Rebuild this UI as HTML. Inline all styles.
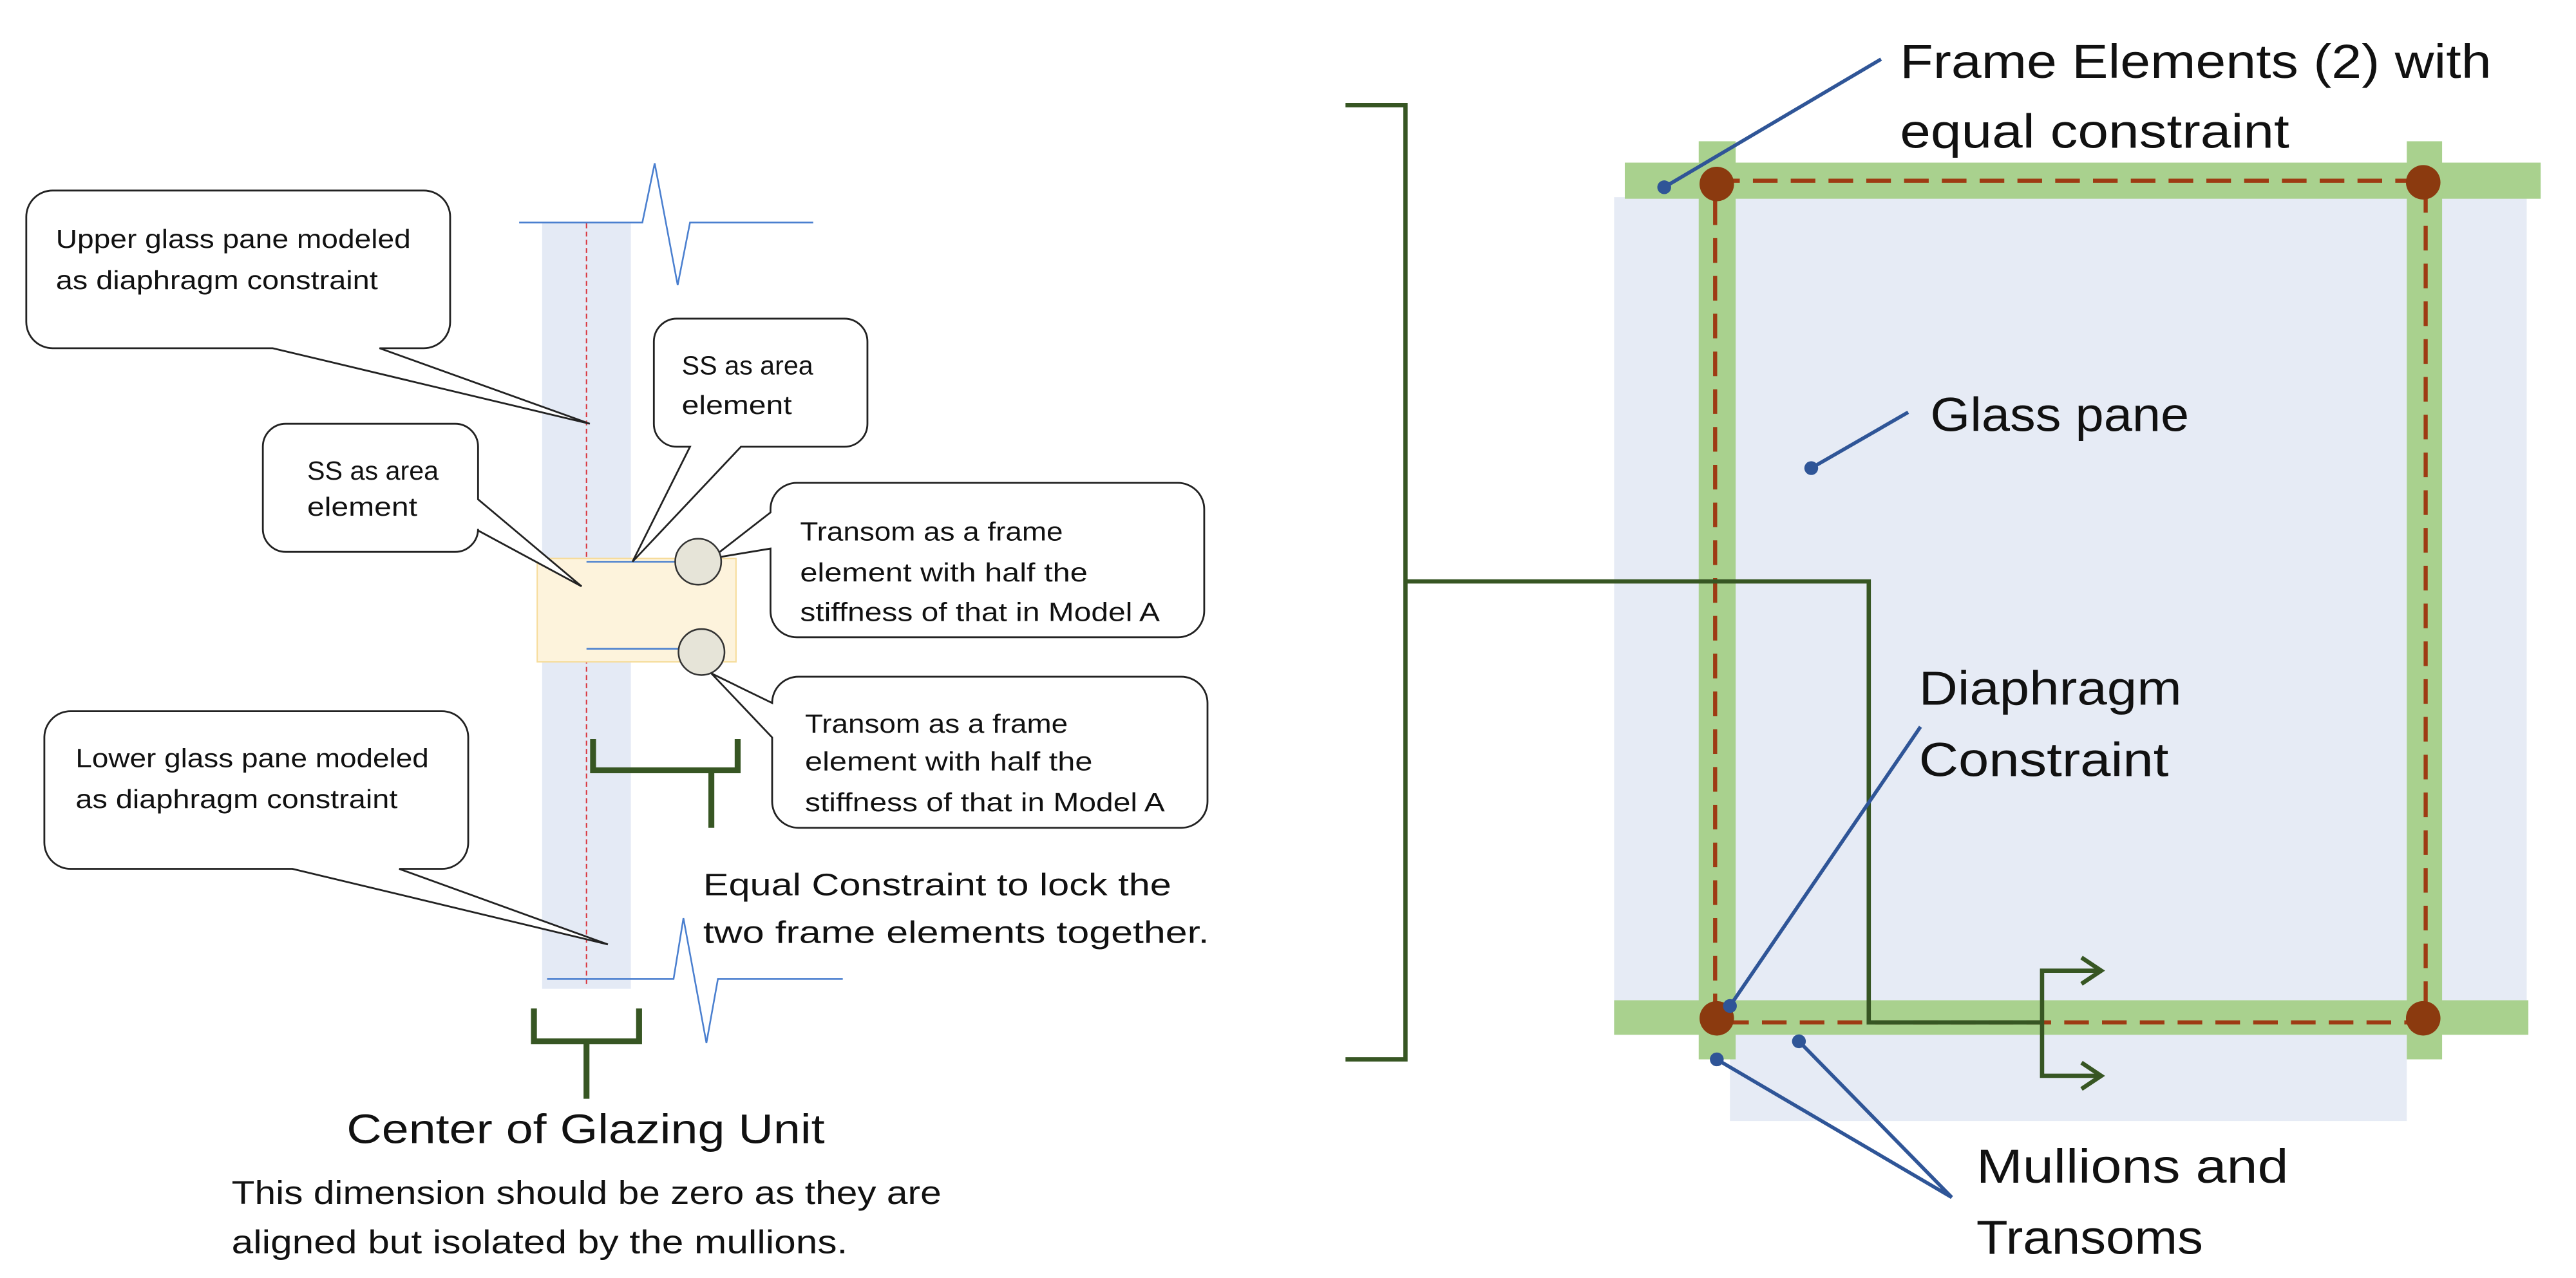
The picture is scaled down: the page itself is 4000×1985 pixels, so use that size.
<!DOCTYPE html>
<html><head><meta charset="utf-8"><style>
html,body{margin:0;padding:0;background:#fff;width:4000px;height:1985px;overflow:hidden}
svg{display:block}
text{font-family:"Liberation Sans",sans-serif;fill:#111}
</style></head><body>
<svg width="4000" height="1985" viewBox="0 0 1568 778.1" xmlns="http://www.w3.org/2000/svg">
<rect width="1568" height="778.1" fill="#fff"/>
<!-- LEFT -->
<rect x="330" y="136" width="54" height="466" fill="#e4eaf5"/>
<line x1="357" y1="136" x2="357" y2="600" stroke="#d9363e" stroke-width="0.8" stroke-dasharray="3,2"/>
<rect x="327" y="340" width="121" height="63" fill="#fdf3dc" stroke="#f6dc9a" stroke-width="0.8"/>
<line x1="357" y1="342" x2="411" y2="342" stroke="#4a7fcf" stroke-width="1"/>
<line x1="357" y1="395" x2="413" y2="395" stroke="#4a7fcf" stroke-width="1"/>
<polyline points="316,135.5 391,135.5 398.5,99.4 412.5,173.6 420,135.5 495,135.5" fill="none" stroke="#4a7fcf" stroke-width="1"/>
<polyline points="333,596 410,596 416,559 430,635 437,596 513,596" fill="none" stroke="#4a7fcf" stroke-width="1"/>

<g fill="#fff" stroke="#222" stroke-width="1.1" stroke-linejoin="miter">
<path d="M32,116 H258 A16,16 0 0 1 274,132 V196 A16,16 0 0 1 258,212 H231 L359,258 L166,212 H32 A16,16 0 0 1 16,196 V132 A16,16 0 0 1 32,116 Z"/>
<path d="M174,258 H277 A14,14 0 0 1 291,272 V304 L354,357 L291,323 V322 A14,14 0 0 1 277,336 H174 A14,14 0 0 1 160,322 V272 A14,14 0 0 1 174,258 Z"/>
<path d="M412,194 H514 A14,14 0 0 1 528,208 V258 A14,14 0 0 1 514,272 H451 L385,342 L420,272 H412 A14,14 0 0 1 398,258 V208 A14,14 0 0 1 412,194 Z"/>
<path d="M485,294 H717 A16,16 0 0 1 733,310 V372 A16,16 0 0 1 717,388 H485 A16,16 0 0 1 469,372 V334 L433,340 L469,312 V310 A16,16 0 0 1 485,294 Z"/>
<path d="M486,412 H719 A16,16 0 0 1 735,428 V488 A16,16 0 0 1 719,504 H486 A16,16 0 0 1 470,488 V449 L433,410 L470,428 A16,16 0 0 1 486,412 Z"/>
<path d="M43,433 H269 A16,16 0 0 1 285,449 V513 A16,16 0 0 1 269,529 H243 L370,575 L178,529 H43 A16,16 0 0 1 27,513 V449 A16,16 0 0 1 43,433 Z"/>
</g>
<circle cx="425" cy="342" r="14" fill="#e6e4d8" stroke="#333" stroke-width="1"/>
<circle cx="427" cy="397" r="14" fill="#e6e4d8" stroke="#333" stroke-width="1"/>

<g font-size="16">
<text x="34" y="151" textLength="216" lengthAdjust="spacingAndGlyphs">Upper glass pane modeled</text>
<text x="34" y="176" textLength="196" lengthAdjust="spacingAndGlyphs">as diaphragm constraint</text>
<text x="187" y="292" textLength="80" lengthAdjust="spacingAndGlyphs">SS as area</text>
<text x="187" y="314" textLength="67" lengthAdjust="spacingAndGlyphs">element</text>
<text x="415" y="228" textLength="80" lengthAdjust="spacingAndGlyphs">SS as area</text>
<text x="415" y="252" textLength="67" lengthAdjust="spacingAndGlyphs">element</text>
<text x="487" y="329" textLength="160" lengthAdjust="spacingAndGlyphs">Transom as a frame</text>
<text x="487" y="354" textLength="175" lengthAdjust="spacingAndGlyphs">element with half the</text>
<text x="487" y="378" textLength="219" lengthAdjust="spacingAndGlyphs">stiffness of that in Model A</text>
<text x="490" y="446" textLength="160" lengthAdjust="spacingAndGlyphs">Transom as a frame</text>
<text x="490" y="469" textLength="175" lengthAdjust="spacingAndGlyphs">element with half the</text>
<text x="490" y="494" textLength="219" lengthAdjust="spacingAndGlyphs">stiffness of that in Model A</text>
<text x="46" y="467" textLength="215" lengthAdjust="spacingAndGlyphs">Lower glass pane modeled</text>
<text x="46" y="492" textLength="196" lengthAdjust="spacingAndGlyphs">as diaphragm constraint</text>
</g>

<g stroke="#375623" stroke-width="3.6" fill="none">
<polyline points="361,450 361,469 449,469 449,450"/>
<line x1="433" y1="469" x2="433" y2="504"/>
<polyline points="325,614 325,634 389,634 389,614"/>
<line x1="357" y1="634" x2="357" y2="669"/>
</g>
<text x="428" y="545" font-size="19" textLength="285" lengthAdjust="spacingAndGlyphs">Equal Constraint to lock the</text>
<text x="428" y="574" font-size="19" textLength="308" lengthAdjust="spacingAndGlyphs">two frame elements together.</text>
<text x="211" y="696" font-size="25" textLength="291" lengthAdjust="spacingAndGlyphs">Center of Glazing Unit</text>
<text x="141" y="733" font-size="20" textLength="432" lengthAdjust="spacingAndGlyphs">This dimension should be zero as they are</text>
<text x="141" y="763" font-size="20" textLength="375" lengthAdjust="spacingAndGlyphs">aligned but isolated by the mullions.</text>

<!-- RIGHT -->
<rect x="982.5" y="120" width="555.5" height="510" fill="#e6ebf5"/>
<rect x="1053" y="620" width="412" height="62.5" fill="#e6ebf5"/>
<g fill="#a9d18e">
<rect x="989" y="99" width="557.5" height="22"/>
<rect x="1034" y="86" width="22.5" height="559"/>
<rect x="1465" y="86" width="21.5" height="559"/>
<rect x="982.5" y="609" width="556.5" height="21"/>
</g>
<rect x="1044" y="110" width="432.5" height="512.5" fill="none" stroke="#9e3b13" stroke-width="2.5" stroke-dasharray="15,8"/>
<g fill="#8b3a0f">
<circle cx="1045" cy="112" r="10.5"/><circle cx="1475" cy="111" r="10.5"/>
<circle cx="1045" cy="620" r="10.5"/><circle cx="1475" cy="620" r="10.5"/>
</g>
<g stroke="#375623" stroke-width="2.6" fill="none">
<polyline points="819,64 855.5,64 855.5,645 819,645"/>
<polyline points="855.5,354 1137.5,354 1137.5,622.5 1243,622.5"/>
<polyline points="1277,591 1243,591 1243,655 1277,655"/>
<polyline points="1267,583 1279,591 1267,599"/>
<polyline points="1267,647 1279,655 1267,663"/>
</g>
<g stroke="#2f5597" stroke-width="2.2" fill="none">
<line x1="1013" y1="114" x2="1145" y2="36"/>
<line x1="1102.5" y1="285" x2="1161.5" y2="251"/>
<line x1="1053" y1="612.5" x2="1169" y2="442.5"/>
<polyline points="1045,645 1188,729 1095,634"/>
</g>
<g fill="#2f5597">
<circle cx="1013" cy="114" r="4.2"/><circle cx="1102.5" cy="285" r="4.2"/>
<circle cx="1053" cy="612.5" r="4.2"/><circle cx="1045" cy="645" r="4.2"/><circle cx="1095" cy="634" r="4.2"/>
</g>
<g font-size="29">
<text x="1156.5" y="47.5" textLength="360" lengthAdjust="spacingAndGlyphs">Frame Elements (2) with</text>
<text x="1156.5" y="90" textLength="237" lengthAdjust="spacingAndGlyphs">equal constraint</text>
<text x="1175" y="262.5" textLength="157.5" lengthAdjust="spacingAndGlyphs">Glass pane</text>
<text x="1168" y="429" textLength="160" lengthAdjust="spacingAndGlyphs">Diaphragm</text>
<text x="1168" y="472.5" textLength="152" lengthAdjust="spacingAndGlyphs">Constraint</text>
<text x="1203" y="720" textLength="190" lengthAdjust="spacingAndGlyphs">Mullions and</text>
<text x="1203" y="763.5" textLength="138" lengthAdjust="spacingAndGlyphs">Transoms</text>
</g>
</svg>
</body></html>
